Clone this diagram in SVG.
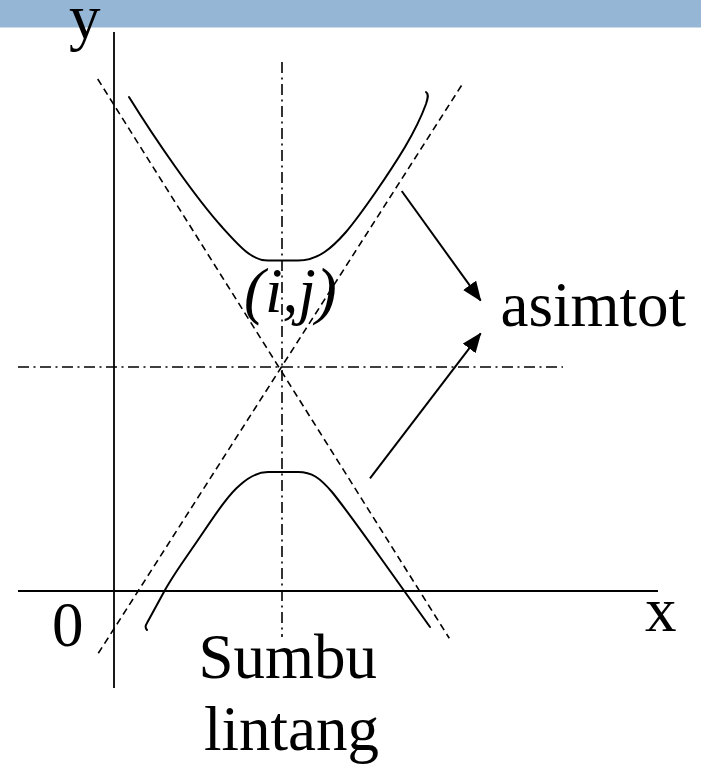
<svg xmlns="http://www.w3.org/2000/svg" width="701" height="768" viewBox="0 0 701 768">
  <style>
    .axis { stroke: #000; stroke-width: 1.8; fill: none; }
    .asym { stroke: #000; stroke-width: 1.6; fill: none; stroke-dasharray: 7 4.5; }
    .dashdot { stroke: #000; stroke-width: 1.6; fill: none; stroke-dasharray: 11 4.5 2 4.5; }
    .curve { stroke: #000; stroke-width: 2; fill: none; stroke-linecap: round; stroke-linejoin: round; }
    .arrow { stroke: #000; stroke-width: 2; fill: none; marker-end: url(#head); }
    .lbl { font-family: "Liberation Serif", "Times New Roman", serif; font-size: 63px; fill: #000; }
    .ital { font-style: italic; }
  </style>
  <defs>
    <marker id="head" markerUnits="userSpaceOnUse" markerWidth="20" markerHeight="16" viewBox="0 0 20 16" refX="19" refY="8" orient="auto">
      <path d="M0,0 L20,8 L0,16 Z" fill="#000"/>
    </marker>
  </defs>
  <rect width="701" height="768" fill="#fff"/>
  <rect id="band" x="0" y="0" width="701" height="27.5" fill="#95B6D4"/>

  <g id="axes">
    <line class="axis" x1="114" y1="32" x2="114" y2="688"/>
    <line class="axis" x1="18" y1="591" x2="658" y2="591"/>
  </g>

  <g id="center-lines">
    <line class="dashdot" x1="282" y1="62" x2="282" y2="637"/>
    <line class="dashdot" x1="18" y1="367" x2="563" y2="367"/>
  </g>

  <g id="asymptotes">
    <line class="asym" x1="97.7" y1="79" x2="449.3" y2="638.3"/>
    <line class="asym" x1="98.3" y1="653.3" x2="463.3" y2="82.7"/>
  </g>

  <g id="hyperbola">
    <path id="upper-branch" class="curve" d="M129,97 C155,139 195,197 222,227 C240,247 252,260.5 268,260.5 L298,260.5 C318,260.5 332,248 346,232 C362,213 390,172 405,147 C415,130 422,115 426,104 C428,98 429,94 426,92"/>
    <path id="lower-branch" class="curve" d="M147,630 C145,628 145,626 147,623 L165,590 C175,572 190,552 200,537 C215,515 228,495 240,485 C250,476 258,472 268,472 L298,472 C312,472 320,478 332,492 C345,508 365,536 380,557 L430,627"/>
  </g>

  <g id="connectors">
    <line class="arrow" x1="401.7" y1="191" x2="480.7" y2="300.7"/>
    <line class="arrow" x1="370" y1="478.3" x2="480.7" y2="333.3"/>
  </g>

  <g id="labels">
    <text id="label-y" class="lbl" x="69" y="38">y</text>
    <text id="label-x" class="lbl" x="645" y="631">x</text>
    <text id="label-0" class="lbl" x="52" y="646">0</text>
    <text id="label-ij" class="lbl ital" x="244" y="312">(i,j)</text>
    <text id="label-asimtot" class="lbl" x="500.5" y="326">asimtot</text>
    <text id="label-sumbu" class="lbl" x="198.5" y="678">Sumbu</text>
    <text id="label-lintang" class="lbl" x="204" y="750">lintang</text>
  </g>
</svg>
